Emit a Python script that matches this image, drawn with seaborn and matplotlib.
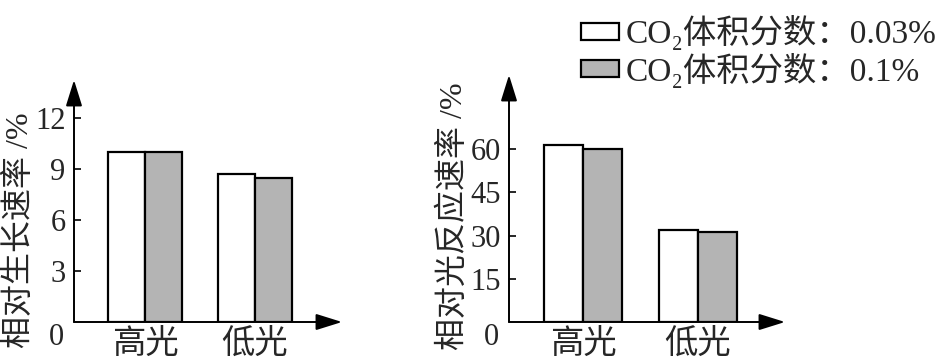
import pandas as pd
import matplotlib.pyplot as plt
import seaborn as sns
from matplotlib.patches import Patch

# Data
light = ["高光", "低光"]
co2 = ["CO₂体积分数：0.03%", "CO₂体积分数：0.1%"]
growth_003 = [10.0, 8.7]
growth_01 = [10.0, 8.5]
reaction_003 = [61.5, 32.0]
reaction_01 = [60.0, 31.2]
growth_ticks = [3, 6, 9, 12]
reaction_ticks = [15, 30, 45, 60]

sns.set_theme(style="white")
plt.rcParams["font.family"] = ["Liberation Serif", "Noto Sans CJK SC", "DejaVu Serif"]

colors = ["white", "#b4b4b4"]
fs = 22


def make_df(a, b):
    return pd.DataFrame({
        "light": light * 2,
        "co2": [co2[0]] * 2 + [co2[1]] * 2,
        "value": a + b,
    })


fig = plt.figure(figsize=(9.39, 3.63), dpi=100)
ax1 = fig.add_axes([74 / 939, 41 / 363, 268 / 939, 242 / 363])
ax2 = fig.add_axes([509 / 939, 41 / 363, 276 / 939, 247 / 363])

setups = [
    (ax1, make_df(growth_003, growth_01), growth_ticks, (-0.645, 1.79), 14.24,
     "相对生长速率 /%", 0.38),
    (ax2, make_df(reaction_003, reaction_01), reaction_ticks, (-0.643, 1.757), 85.8,
     "相对光反应速率 /%", 0.43),
]

for ax, df, ticks, xlim, ytop, ylabel, ly in setups:
    sns.barplot(data=df, x="light", y="value", hue="co2", palette=colors,
                edgecolor="black", linewidth=1.6, width=0.68, gap=0,
                legend=False, ax=ax)
    ax.set_xlim(*xlim)
    ax.set_ylim(0, ytop)
    ax.set_yticks(ticks)
    ax.set_yticklabels([str(t) for t in ticks], fontsize=fs)
    ax.tick_params(axis="y", direction="in", length=5, width=1.4, pad=6, left=True)
    ax.tick_params(axis="x", length=0, pad=5, labelsize=fs + 2)
    ax.set_xlabel("")
    ax.set_ylabel(ylabel, fontsize=fs + 1)
    ax.yaxis.set_label_coords(-0.145, ly)
    for s in ax.spines.values():
        s.set_visible(False)
    ax.set_facecolor("none")
    # axis arrows
    for end in [(0, 1), (1, 0)]:
        ax.annotate("", xy=end, xytext=(0, 0), xycoords="axes fraction",
                    arrowprops=dict(arrowstyle="-|>,head_length=0.8,head_width=0.25",
                                    color="black", lw=1.4, mutation_scale=20,
                                    shrinkA=0, shrinkB=0),
                    annotation_clip=False)
    ax.annotate("0", xy=(0, 0), xycoords="axes fraction", xytext=(-7, -11),
                textcoords="offset points", ha="right", va="center", fontsize=fs)

handles = [Patch(facecolor=c, edgecolor="black", linewidth=1.6) for c in colors]
fig.legend(handles, co2, loc="upper left", bbox_to_anchor=(566 / 939, 1.0),
           frameon=False, fontsize=24, handlelength=1.15, handleheight=0.4,
           handletextpad=0.2, labelspacing=0.08, borderaxespad=0.05)

fig.savefig("out.png", dpi=100)
